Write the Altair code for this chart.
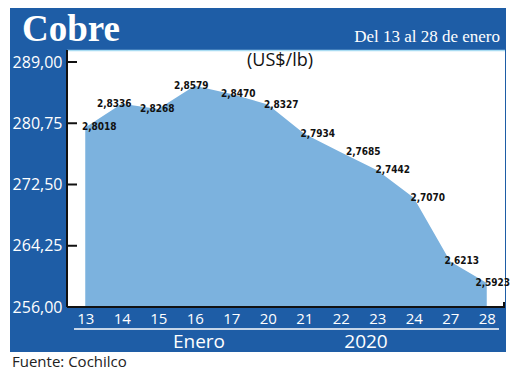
import altair as alt
import pandas as pd

# ---- data ----
days = ["13", "14", "15", "16", "17", "20", "21", "22", "23", "24", "27", "28"]
prices = [2.8018, 2.8336, 2.8268, 2.8579, 2.8470, 2.8327, 2.7934, 2.7685, 2.7442, 2.7070, 2.6213, 2.5923]
y_ticks = [256.00, 264.25, 272.50, 280.75, 289.00]

# ---- label placement (style) ----
label_dx = [14, -7.5, -1, -3.5, 7, 13.5, 13.5, 22.5, 15.5, 14, 11.5, 6]
label_dy = [4.5, -10, 4, -9, -10, -9.5, -9, -1, -6, -8, -6.5, -11]

BLUE = "#1e5da6"
AREA = "#7cb2de"
W, H = 438, 257
LABEL_FONT = "Liberation Sans Narrow, DejaVu Sans Condensed, Roboto Condensed, Arial Narrow, Roboto, sans-serif"

df = pd.DataFrame({"day": days, "price": prices, "dx": label_dx, "dy": label_dy})
df["cents"] = df["price"] * 100
df["label"] = [f"{p:.4f}".replace(".", ",") for p in prices]
ticks_df = pd.DataFrame({"t": y_ticks})

one = alt.Data(values=[{"a": 1}])

x_enc = alt.X("day:O", sort=None, scale=alt.Scale(type="point", padding=0.5),
              axis=alt.Axis(title=None, labelAngle=0, ticks=False, domain=False,
                            labelColor="white", labelFont="Open Sans", labelFontSize=15,
                            labelPadding=4, zindex=2))
y_scale = alt.Scale(domain=[256, 289], range=[H, 12], nice=False, zero=False)
y_enc = alt.Y("cents:Q", scale=y_scale, stack=None,
              axis=alt.Axis(title=None, values=y_ticks, grid=False, domain=False, ticks=False,
                            labelColor="white", labelFont="Open Sans", labelFontSize=16,
                            labelPadding=5, zindex=2,
                            labelExpr="replace(format(datum.value, '.2f'), '.', ',')"))

frame = alt.Chart(one).mark_rect(color=BLUE).encode(
    x=alt.value(-57), x2=alt.value(439), y=alt.value(-45), y2=alt.value(302))
plotbg = alt.Chart(one).mark_rect(color="white").encode(
    x=alt.value(0), x2=alt.value(W), y=alt.value(0), y2=alt.value(H))

area = alt.Chart(df).mark_area(color=AREA, opacity=1).encode(x=x_enc, y=y_enc, y2=alt.value(H))

topline = alt.Chart(one).mark_rule(color="#a9dcf2", strokeWidth=1.5).encode(
    x=alt.value(0), x2=alt.value(W), y=alt.value(0.5))
yline = alt.Chart(one).mark_rule(color="#111", strokeWidth=2).encode(
    x=alt.value(0), y=alt.value(0), y2=alt.value(H))
xline = alt.Chart(one).mark_rule(color="#111", strokeWidth=2).encode(
    x=alt.value(0), x2=alt.value(W), y=alt.value(H))
endtick = alt.Chart(one).mark_rule(color="#111", strokeWidth=2).encode(
    x=alt.value(W - 1), y=alt.value(H - 5), y2=alt.value(H))
yticks = alt.Chart(ticks_df).mark_rule(color="#111", strokeWidth=2).encode(
    x=alt.value(0), x2=alt.value(10), y=alt.Y("t:Q", scale=y_scale))

labels = alt.Chart(df).mark_text(font=LABEL_FONT, fontSize=10, fontWeight="bold",
                                 color="#111").encode(
    x=alt.X("day:O", sort=None, scale=alt.Scale(type="point", padding=0.5)),
    y=alt.Y("cents:Q", scale=y_scale),
    xOffset=alt.XOffset("dx:Q", scale=None),
    yOffset=alt.YOffset("dy:Q", scale=None),
    text="label:N")

bottom_line = alt.Chart(one).mark_rule(color="white", strokeWidth=1.5).encode(
    x=alt.value(7), x2=alt.value(432), y=alt.value(279))
enero = alt.Chart(one).mark_text(text="Enero", color="white", font="Open Sans", fontSize=19,
                                 baseline="middle").encode(x=alt.value(132), y=alt.value(292))
year = alt.Chart(one).mark_text(text="2020", color="white", font="Open Sans", fontSize=19,
                                baseline="middle").encode(x=alt.value(299), y=alt.value(292))
cobre = alt.Chart(one).mark_text(text="Cobre", color="white", font="Liberation Serif", fontSize=37,
                                 fontWeight="bold", align="left", baseline="alphabetic").encode(
    x=alt.value(-45), y=alt.value(-9))
rango = alt.Chart(one).mark_text(text="Del 13 al 28 de enero", color="white", font="Liberation Serif",
                                 fontSize=17, align="right", baseline="alphabetic").encode(
    x=alt.value(433), y=alt.value(-8))
unit = alt.Chart(one).mark_text(text="(US$/lb)", color="#111", font="Open Sans", fontSize=18,
                                baseline="middle").encode(x=alt.value(213), y=alt.value(11))
fuente = alt.Chart(one).mark_text(text="Fuente: Cochilco", color="#222", font="Open Sans", fontSize=15,
                                  align="left", baseline="middle").encode(x=alt.value(-55), y=alt.value(312))

chart = alt.layer(
    frame, plotbg, area, topline, yline, xline, endtick, yticks, labels,
    bottom_line, enero, year, cobre, rango, unit, fuente
).properties(
    width=W, height=H,
    padding={"left": 59, "top": 42, "right": 7, "bottom": 68},
    autosize=alt.AutoSizeParams(type="none"),
    background="white",
).configure_view(stroke=None)

chart.save("out.html", embed_options={"renderer": "svg", "actions": False})
